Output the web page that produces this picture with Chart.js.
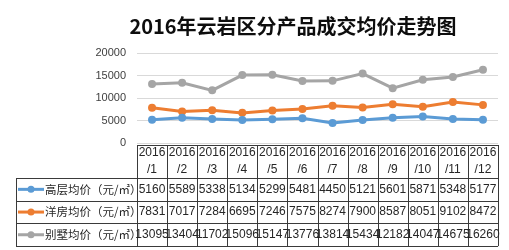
<!DOCTYPE html>
<html lang="zh">
<head>
<meta charset="UTF-8">
<title>2016年云岩区分产品成交均价走势图</title>
<script src="https://cdn.jsdelivr.net/npm/chart.js"></script>
<style>
  html, body { margin: 0; padding: 0; background: #fff; }
  #wrap { width: 509px; height: 250px; }
</style>
</head>
<body>
<div id="wrap"><canvas id="c" width="509" height="250"></canvas></div>
<script>
// data
var chartTitle = '2016年云岩区分产品成交均价走势图';
var months = ['2016/1', '2016/2', '2016/3', '2016/4', '2016/5', '2016/6',
              '2016/7', '2016/8', '2016/9', '2016/10', '2016/11', '2016/12'];
var seriesNames = ['高层均价（元/㎡）', '洋房均价（元/㎡）', '别墅均价（元/㎡）'];
var highRise = [5160, 5589, 5338, 5134, 5299, 5481, 4450, 5121, 5601, 5871, 5348, 5177];
var garden   = [7831, 7017, 7284, 6695, 7246, 7575, 8274, 7900, 8587, 8051, 9102, 8472];
var villa    = [13095, 13404, 11702, 15096, 15147, 13776, 13814, 15434, 12182, 14047, 14675, 16260];
var yTicks = [0, 5000, 10000, 15000, 20000];

var colors = ['#5B9BD5', '#ED7D31', '#A5A5A5'];
var allSeries = [highRise, garden, villa];

// title sits a bit left of the plot centre in the original, so draw it by hand
var titlePlugin = {
  id: 'offsetTitle',
  afterDraw: function(chart) {
    var ctx = chart.ctx;
    ctx.save();
    ctx.fillStyle = '#0d0d0d';
    ctx.font = "bold 20px 'Noto Sans CJK SC', sans-serif";
    ctx.textAlign = 'center';
    ctx.textBaseline = 'middle';
    ctx.fillText(chartTitle, 293, 26);
    ctx.restore();
  }
};

// draws the data table under the plot (Excel style)
var tablePlugin = {
  id: 'dataTable',
  afterDraw: function(chart) {
    var ctx = chart.ctx;
    var area = chart.chartArea;
    var xs = chart.scales.x;
    var n = months.length;
    var colW = (area.right - area.left) / n;
    var top = 145, headH = 33, rowH = 22.7, left = 16;
    var bottom = top + headH + rowH * 3;

    ctx.save();
    ctx.strokeStyle = '#3a3a3a';
    ctx.lineWidth = 1;
    ctx.beginPath();
    // horizontal lines
    ctx.moveTo(area.left, top + 0.5); ctx.lineTo(area.right, top + 0.5);
    for (var r = 0; r <= 3; r++) {
      var y = Math.round(top + headH + rowH * r) + 0.5;
      ctx.moveTo(left, y); ctx.lineTo(area.right, y);
    }
    // vertical lines
    for (var i = 0; i <= n; i++) {
      var x = Math.round(area.left + colW * i) + 0.5;
      ctx.moveTo(x, top); ctx.lineTo(x, bottom);
    }
    ctx.moveTo(left + 0.5, top + headH); ctx.lineTo(left + 0.5, bottom);
    ctx.stroke();

    // header text
    ctx.fillStyle = '#262626';
    ctx.font = "12px 'Liberation Sans', sans-serif";
    ctx.textAlign = 'center';
    ctx.textBaseline = 'middle';
    months.forEach(function(m, i) {
      var cx = xs.getPixelForValue(i);
      var parts = m.split('/');
      ctx.fillText(parts[0], cx, top + 8);
      ctx.fillText('/' + parts[1], cx, top + 25);
    });

    // rows
    allSeries.forEach(function(vals, r) {
      var cy = top + headH + rowH * r + rowH / 2;
      // legend key
      ctx.strokeStyle = colors[r];
      ctx.fillStyle = colors[r];
      ctx.lineWidth = 3;
      ctx.beginPath();
      ctx.moveTo(left + 2, cy); ctx.lineTo(left + 28, cy);
      ctx.stroke();
      ctx.beginPath();
      ctx.arc(left + 15, cy, 3.5, 0, Math.PI * 2);
      ctx.fill();

      ctx.fillStyle = '#262626';
      ctx.font = "11.5px 'Noto Sans CJK SC', sans-serif";
      ctx.textAlign = 'left';
      ctx.fillText(seriesNames[r], left + 29, cy);

      ctx.font = "12px 'Liberation Sans', sans-serif";
      ctx.textAlign = 'center';
      vals.forEach(function(v, i) {
        ctx.fillText(String(v), xs.getPixelForValue(i), cy);
      });
    });
    ctx.restore();
  }
};

new Chart(document.getElementById('c'), {
  type: 'line',
  data: {
    labels: months,
    datasets: allSeries.map(function(vals, i) {
      return {
        label: seriesNames[i],
        data: vals,
        borderColor: colors[i],
        backgroundColor: colors[i],
        borderWidth: 3,
        pointRadius: 4,
        pointBorderWidth: 0,
        tension: 0
      };
    })
  },
  options: {
    responsive: false,
    animation: false,
    layout: { padding: { top: 53, left: 0, right: 11, bottom: 107 } },
    plugins: {
      legend: { display: false },
      tooltip: { enabled: false },
      title: { display: false }
    },
    scales: {
      x: {
        display: false,
        offset: true
      },
      y: {
        min: 0,
        max: 20000,
        afterBuildTicks: function(scale) {
          scale.ticks = yTicks.map(function(v) { return { value: v }; });
        },
        afterFit: function(scale) { scale.width = 137; },
        border: { display: false },
        grid: { color: '#d9d9d9', drawTicks: false },
        ticks: {
          color: '#404040',
          padding: 11,
          font: { family: "'Liberation Sans', sans-serif", size: 11 },
          callback: function(v) { return String(v); }
        }
      }
    }
  },
  plugins: [tablePlugin, titlePlugin]
});
</script>
</body>
</html>
